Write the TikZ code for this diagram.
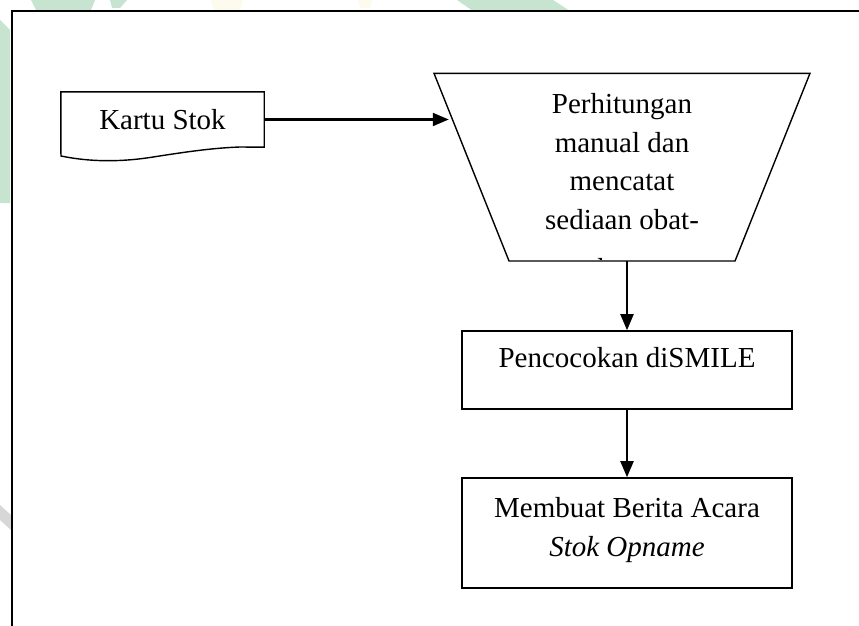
\documentclass[tikz,border=0pt]{standalone}
\usepackage{fontspec}
\setmainfont{Liberation Serif}
\usetikzlibrary{arrows.meta,calc}

\definecolor{wmgreen}{RGB}{198,228,208}
\definecolor{wmyellow}{RGB}{252,251,238}
\definecolor{wmgrey}{RGB}{215,215,215}

\begin{document}
\begin{tikzpicture}[x=1pt,y=-1pt,
  flowline/.style={line width=2.2pt,-{Triangle[length=16pt,width=13pt]}},
  procbox/.style={draw,line width=1.6pt,minimum width=330pt,inner sep=0pt},
  txt/.style={inner sep=0pt,align=center,font=\fontsize{29}{38.5}\selectfont},
]
\clip (0,0) rectangle (859,626);
\fill[white] (0,0) rectangle (859,626);

% faint background marks
\fill[wmgreen] (31,0) -- (95,0) -- (91,10) -- (36,10) -- cycle;
\fill[wmgreen] (110,0) -- (127,0) -- (120,8) -- (112,8) -- cycle;
\fill[wmyellow] (211,0) -- (243,0) -- (240,10) -- (214,10) -- cycle;
\fill[wmyellow] (358,0) -- (372,0) -- (370,8) -- (360,8) -- cycle;
\fill[wmgreen] (457,0) -- (553,0) -- (570,11) -- (473,11) -- cycle;
\fill[wmgreen] (0,20) -- (10,30) -- (10,203) -- (0,203) -- cycle;
\fill[wmgrey] (0,505) -- (11,515) -- (11,530) -- (0,520) -- cycle;

% outer frame
\draw[line width=2pt] (12,640) -- (12,11) -- (870,11);

% input document: Kartu Stok
\node[minimum width=203pt,minimum height=55pt,inner sep=0pt] (kartu) at (162.5,119.5) {};
\draw[line width=1.4pt] (kartu.south west) -- (kartu.north west) -- (kartu.north east)
  -- (kartu.south east) -- (240,147)
  .. controls (212,148) and (185,152) .. (150,157.5)
  .. controls (120,162) and (90,162) .. (61,156) -- (kartu.south west);
\node[txt,anchor=base] (kartutxt) at (162.5,129.5) {Kartu Stok};

% manual operation: inverted trapezium
\coordinate (htl) at (434,73.3);
\coordinate (htr) at (810,73.3);
\coordinate (hbr) at (735,261);
\coordinate (hbl) at (509,261);
\begin{scope}
  \clip (430,70) rectangle (815,259.5);
  \node[txt,anchor=north] (hitungtxt) at (622,93.5)
    {Perhitungan\\manual dan\\mencatat\\sediaan obat-\\[11pt]obatan};
\end{scope}
\draw[line width=1.4pt] (htl) -- (htr) -- (hbr) -- (hbl) -- cycle;
\coordinate (hin) at ($(htl)!0.25!(hbl)$);
\coordinate (hout) at ($(hbl)!0.5!(hbr)$);

% process boxes
\node[procbox,minimum height=78pt] (cocok) at (627,370) {};
\node[txt,anchor=base] (cocoktxt) at (627,367.3) {Pencocokan diSMILE};

\node[procbox,minimum height=110pt] (bap) at (627,533) {};
\node[txt,anchor=north] (baptxt) at (627,497.2)
  {Membuat Berita Acara\\[0.5pt]\textit{Stok Opname}};

% connectors
\draw[flowline,shorten >=4pt] (kartu.east) -- (kartu.east -| hin);
\draw[flowline] (cocok.north |- hout) -- (cocok.north);
\draw[flowline] (cocok.south) -- (bap.north);
\end{tikzpicture}
\end{document}
